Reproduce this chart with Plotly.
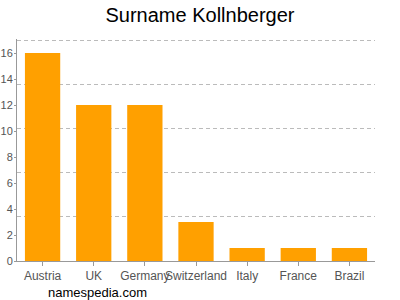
import plotly.graph_objects as go

countries = ["Austria", "UK", "Germany", "Switzerland", "Italy", "France", "Brazil"]
counts = [16, 12, 12, 3, 1, 1, 1]
y_ticks = [0, 2, 4, 6, 8, 10, 12, 14, 16]
grid_vals = [3.4, 6.8, 10.2, 13.6, 17]

fig = go.Figure()
fig.add_trace(go.Bar(x=countries, y=counts, marker_color="#FFA000",
                     marker_line_width=0, width=0.69))
fig.add_trace(go.Scatter(x=countries, y=counts, yaxis="y2", mode="markers",
                         marker_opacity=0, hoverinfo="skip", showlegend=False))

font_fam = "Liberation Sans, Arial, sans-serif"
fig.update_layout(
    width=400, height=300,
    margin=dict(l=17, r=25, t=39, b=39, autoexpand=False),
    paper_bgcolor="white", plot_bgcolor="white",
    showlegend=False,
    title=dict(text="Surname Kollnberger", x=0.5, xanchor="center", y=0.95, yanchor="middle",
               font=dict(family=font_fam, size=20, color="black")),
    xaxis=dict(showline=True, linecolor="#999", linewidth=1, ticks="outside",
               ticklen=4, tickcolor="#999", tickangle=0, automargin=False,
               tickfont=dict(family=font_fam, size=12, color="#555"),
               showgrid=False),
    yaxis=dict(range=[0, 17.08], tickvals=y_ticks, showline=True, linecolor="#999",
               ticks="outside", ticklen=2, tickcolor="#999", showgrid=False, zeroline=False,
               automargin=False, ticklabelstandoff=-1,
               tickfont=dict(family=font_fam, size=11, color="#555")),
    yaxis2=dict(range=[0, 17.08], overlaying="y", tickvals=grid_vals, showticklabels=False,
                showgrid=True, gridcolor="#bbb", griddash="4px,3px", gridwidth=1,
                zeroline=False, showline=False, side="right", automargin=False),
    annotations=[dict(text="namespedia.com", xref="paper", yref="paper", x=0.08, y=-0.1,
                      xanchor="left", yanchor="top", showarrow=False,
                      font=dict(family=font_fam, size=13, color="black"))],
)
fig.write_html("out.html")
